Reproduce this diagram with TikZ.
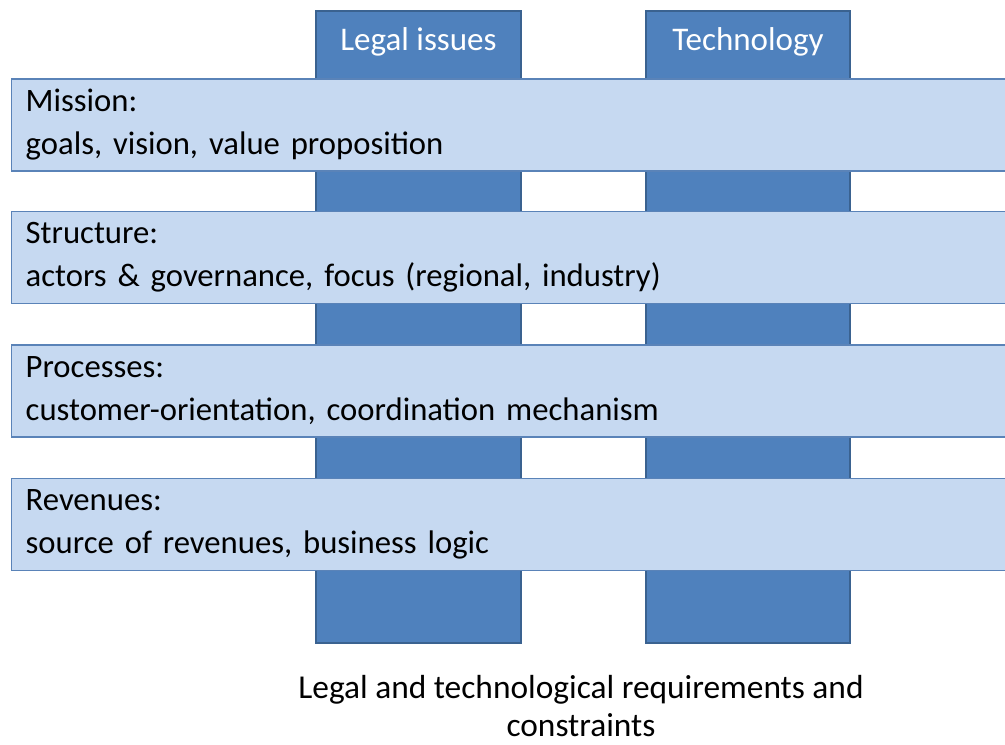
\documentclass[tikz,border=0pt]{standalone}
\usepackage{fontspec}
\setmainfont{Carlito}
\definecolor{colfill}{HTML}{4F81BD}
\definecolor{colline}{HTML}{3A6290}
\definecolor{barfill}{HTML}{C6D9F1}
\definecolor{barline}{HTML}{5A83B8}
\tikzset{
	column/.style={rectangle,draw=colline,line width=1.2pt,fill=colfill,minimum width=4.09cm,minimum height=12.64cm,inner sep=0pt},
	collabel/.style={rectangle,text=white,font=\fontsize{18.8}{22}\selectfont},
	layer/.style={rectangle,draw=barline,line width=0.8pt,fill=barfill,anchor=west,minimum height=1.84cm,text width=19.9cm,inner xsep=0.28cm,align=left,font=\fontsize{18.6}{24.5}\selectfont},
}
\begin{document}
\begin{tikzpicture}[]
	\useasboundingbox (0,0) rectangle (20.1,14.88);
	
	%columns
	\node[column](legal) at (8.37,8.34) {};
	\node[column](tech) at (14.96,8.34) {};
	\node[collabel](legallabel) at (8.37,14.05) {Legal issues};
	\node[collabel](techlabel) at (14.96,14.05) {Technology};
	
	%layers
	\node[layer](mission) at (0.22,12.38) {Mission:\\goals, vision, value proposition};
	\node[layer](structure) at (0.22,9.73) {Structure:\\actors \& governance, focus (regional, industry)};
	\node[layer](processes) at (0.22,7.06) {Processes:\\customer-orientation, coordination mechanism};
	\node[layer](revenues) at (0.22,4.39) {Revenues:\\source of revenues, business logic};
	
	%caption
	\node[rectangle,align=center,inner sep=0pt,font=\fontsize{19}{21.7}\selectfont](caption) at (11.62,0.76) {Legal and technological requirements and\\constraints};
\end{tikzpicture}
\end{document}
